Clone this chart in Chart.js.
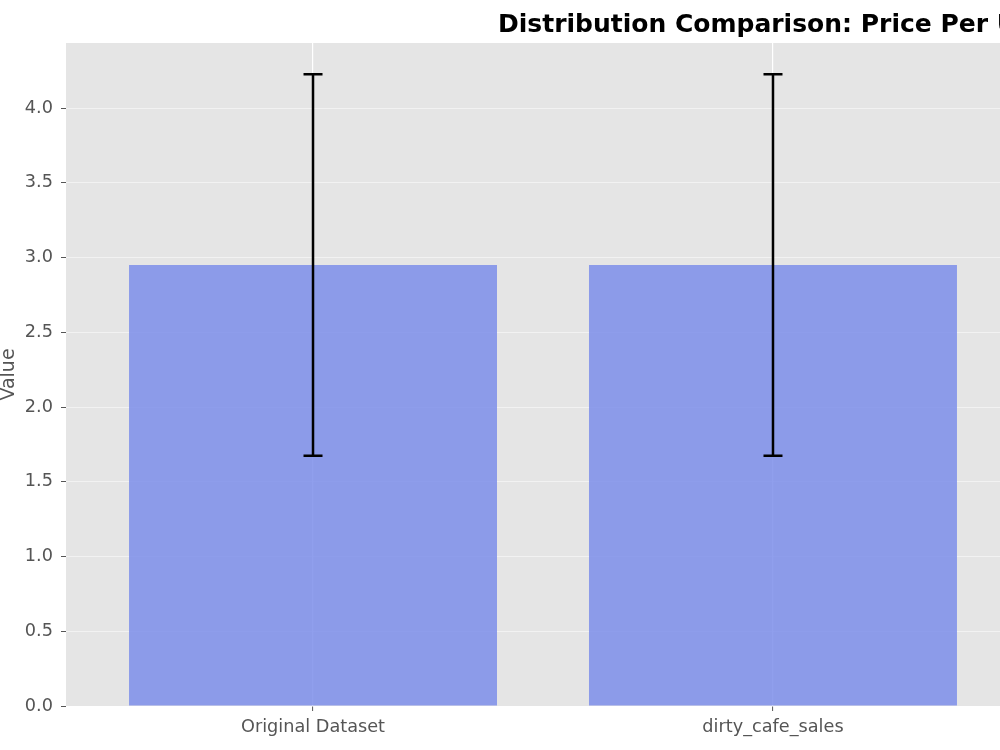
<!DOCTYPE html>
<html>
<head>
<meta charset="utf-8">
<script src="https://cdn.jsdelivr.net/npm/chart.js@4/dist/chart.umd.min.js"></script>
<style>
  html, body { margin: 0; padding: 0; background: #ffffff; overflow: hidden; width: 1000px; height: 750px; }
  #wrap { position: relative; width: 1020px; height: 750px; }
</style>
</head>
<body>
<div id="wrap"><canvas id="c"></canvas></div>
<script>
const categories = ["Original Dataset", "dirty_cafe_sales"];
const means = [2.95, 2.95];
const stds = [1.276, 1.276];
const yTicks = [0, 0.5, 1, 1.5, 2, 2.5, 3, 3.5, 4];
const titleText = "Distribution Comparison: Price Per Unit";

const FONT = "'DejaVu Sans', sans-serif";

const errorBarPlugin = {
  id: 'errorBars',
  afterDatasetsDraw(chart) {
    const ctx = chart.ctx;
    const xs = chart.scales.x, ys = chart.scales.y;
    ctx.save();
    ctx.strokeStyle = '#000';
    ctx.lineWidth = 2.5;
    means.forEach((m, i) => {
      const x = xs.getPixelForValue(i);
      const yl = ys.getPixelForValue(m - stds[i]);
      const yh = ys.getPixelForValue(m + stds[i]);
      ctx.beginPath();
      ctx.moveTo(x, yl); ctx.lineTo(x, yh);
      ctx.moveTo(x - 9.5, yl); ctx.lineTo(x + 9.5, yl);
      ctx.moveTo(x - 9.5, yh); ctx.lineTo(x + 9.5, yh);
      ctx.stroke();
    });
    ctx.restore();
  }
};

const bgPlugin = {
  id: 'plotBg',
  beforeDraw(chart) {
    const a = chart.chartArea, ctx = chart.ctx;
    ctx.save();
    ctx.fillStyle = '#e5e5e5';
    ctx.fillRect(a.left, a.top, a.right - a.left, a.bottom - a.top);
    ctx.restore();
  }
};

const titlePlugin = {
  id: 'fixedTitle',
  afterDraw(chart) {
    const ctx = chart.ctx;
    ctx.save();
    ctx.font = "bold 25px " + FONT;
    ctx.fillStyle = '#000';
    ctx.textAlign = 'left';
    ctx.textBaseline = 'alphabetic';
    ctx.fillText(titleText, 498, 32);
    ctx.restore();
  }
};

new Chart(document.getElementById('c'), {
  type: 'bar',
  data: {
    datasets: [{
      data: means.map((v, i) => ({ x: i, y: v })),
      backgroundColor: 'rgba(125,142,234,0.85)',
      borderWidth: 0,
      barPercentage: 1,
      categoryPercentage: 0.8
    }]
  },
  options: {
    responsive: true,
    maintainAspectRatio: false,
    animation: false,
    layout: { padding: { top: 43, left: 0, right: 0, bottom: 0 } },
    plugins: { legend: { display: false }, tooltip: { enabled: false }, title: { display: false } },
    scales: {
      x: {
        type: 'linear',
        min: -0.537,
        max: 1.537,
        offset: false,
        afterBuildTicks(scale) { scale.ticks = categories.map((c, i) => ({ value: i })); },
        afterFit(scale) { scale.height = 44; },
        ticks: {
          callback: (v) => categories[v] !== undefined ? categories[v] : '',
          color: '#555555',
          font: { family: FONT, size: 17.7 },
          padding: 6,
          maxRotation: 0,
          autoSkip: false
        },
        grid: { offset: false, color: '#ffffff', lineWidth: 1.2, drawTicks: true, tickLength: 5, tickColor: '#555555', tickWidth: 1 },
        border: { display: false }
      },
      y: {
        min: 0,
        max: 4.435,
        afterBuildTicks(scale) { scale.ticks = yTicks.map(v => ({ value: v })); },
        afterFit(scale) { scale.width = 66; },
        ticks: {
          callback: (v) => Number(v).toFixed(1),
          color: '#555555',
          font: { family: FONT, size: 17.7 },
          padding: 8
        },
        grid: { color: 'rgba(255,255,255,0.5)', lineWidth: 1, drawTicks: true, tickLength: 5, tickColor: '#555555', tickWidth: 1 },
        border: { display: false },
        title: {
          display: true,
          text: 'Value',
          color: '#555555',
          font: { family: FONT, size: 19, lineHeight: 1 },
          padding: { top: 0, bottom: 0 }
        }
      }
    }
  },
  plugins: [bgPlugin, errorBarPlugin, titlePlugin]
});
</script>
</body>
</html>
